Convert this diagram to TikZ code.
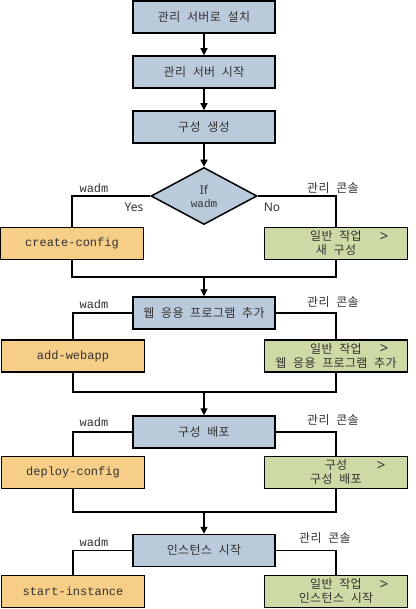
\documentclass[tikz,border=0pt]{standalone}
\usepackage{fontspec}
\setmainfont{Noto Sans}
\setmonofont{Liberation Mono}
\newfontfamily\kor{Noto Sans CJK KR}[LetterSpace=3,WordSpace=2.2]
\usepackage{xcolor}
\definecolor{taskblue}{RGB}{187,202,219}
\definecolor{wadmorange}{RGB}{247,206,135}
\definecolor{consolegreen}{RGB}{206,218,166}
\definecolor{inkgray}{RGB}{50,50,50}
\usepackage{tikz}
\usetikzlibrary{shapes.geometric,arrows.meta}
\tikzstyle{stage} = [rectangle, draw, line width=1.5pt, fill=taskblue,
  inner sep=0pt, minimum width=142pt, minimum height=32pt, text=inkgray,
  font=\kor\fontsize{12}{14}\selectfont]
\tikzstyle{cli} = [rectangle, draw, line width=1.5pt, fill=wadmorange,
  inner sep=0pt, minimum width=143pt, minimum height=32pt, text=inkgray,
  font=\ttfamily\fontsize{12}{14}\selectfont]
\tikzstyle{gui} = [rectangle, draw, line width=1.5pt, fill=consolegreen,
  inner sep=0pt, minimum width=143pt, minimum height=32pt, align=center,
  text=inkgray, font=\kor\fontsize{12}{14}\selectfont]
\tikzstyle{choice} = [diamond, draw, line width=1.5pt, fill=taskblue,
  inner sep=0pt, minimum width=106pt, minimum height=57pt, align=center,
  text=inkgray, font=\fontsize{12}{14}\selectfont]
\tikzstyle{tool} = [inner sep=0pt, text=inkgray, font=\ttfamily\fontsize{12}{14}\selectfont]
\tikzstyle{console} = [inner sep=0pt, text=inkgray, font=\kor\fontsize{12}{14}\selectfont]
\tikzstyle{answer} = [inner sep=0pt, text=inkgray, font=\fontsize{12}{14}\selectfont]
\tikzstyle{more} = [inner sep=0pt, text=inkgray, font=\fontsize{15}{15}\selectfont]

\begin{document}
\begin{tikzpicture}[x=1pt, y=-1pt, line width=1.2pt, >={Triangle[length=7pt,width=7pt]}]
  \useasboundingbox (0,0) rectangle (415,609);

  \node[stage] (inst) at (204, 17) {관리 서버로 설치};
  \node[stage] (start) at (204, 72) {관리 서버 시작};
  \node[stage] (conf) at (204, 127) {구성 생성};
  \node[choice] (ifw) at (204, 196) {If\\[-1pt]{\ttfamily\fontsize{11}{13}\selectfont wadm}};

  \node[cli] (cc) at (72, 243.5) {create-config};
  \node[gui] (g1) at (336, 243.5) {일반 작업\\새 구성};
  \coordinate (m1) at (204, 277);

  \node[stage] (web) at (204, 313) {웹 응용 프로그램 추가};
  \node[cli] (aw) at (73, 356) {add-webapp};
  \node[gui] (g2) at (336, 356) {일반 작업\\웹 응용 프로그램 추가};
  \coordinate (m2) at (204, 392);

  \node[stage] (dep) at (204, 432) {구성 배포};
  \node[cli] (dc) at (73, 472.5) {deploy-config};
  \node[gui] (g3) at (336, 472.5) {구성\\구성 배포};
  \coordinate (m3) at (204, 512);

  \node[stage] (sti) at (204, 550.5) {인스턴스 시작};
  \node[cli] (si) at (73, 591.5) {start-instance};
  \node[gui] (g4) at (336, 591.5) {일반 작업\\인스턴스 시작};

  % labels
  \node[tool] (w1) at (94, 188) {wadm};
  \node[console] (k1) at (333, 188) {관리 콘솔};
  \node[answer] (yes) at (134, 207) {Yes};
  \node[answer] (no) at (272, 207) {No};
  \node[tool] (w2) at (94, 304) {wadm};
  \node[console] (k2) at (333, 302) {관리 콘솔};
  \node[tool] (w3) at (94, 422) {wadm};
  \node[console] (k3) at (333, 420) {관리 콘솔};
  \node[tool] (w4) at (94, 542) {wadm};
  \node[console] (k4) at (325, 538) {관리 콘솔};

  \node[more] (g1more) at ([xshift=-24pt, yshift=7pt]g1.east) {>};
  \node[more] (g2more) at ([xshift=-24pt, yshift=7pt]g2.east) {>};
  \node[more] (g3more) at ([xshift=-27pt, yshift=7pt]g3.east) {>};
  \node[more] (g4more) at ([xshift=-24pt, yshift=7pt]g4.east) {>};

  \path[draw,->] (inst) -- (start);
  \path[draw,->] (start) -- (conf);
  \path[draw,->] (conf) -- (ifw);
  \path[draw] (ifw.west) -| (cc.north);
  \path[draw] (ifw.east) -| (g1.north);
  \path[draw] (cc.south) |- (m1) -| (g1.south);
  \path[draw,->] (m1) -- (web);

  \path[draw] (web.west) -| (aw.north);
  \path[draw] (web.east) -| (g2.north);
  \path[draw] (aw.south) |- (m2) -| (g2.south);
  \path[draw,->] (m2) -- (dep);

  \path[draw] (dep.west) -| (dc.north);
  \path[draw] (dep.east) -| (g3.north);
  \path[draw] (dc.south) |- (m3) -| (g3.south);
  \path[draw,->] (m3) -- (sti);

  \path[draw] (sti.west) -| (si.north);
  \path[draw] (sti.east) -| (g4.north);
\end{tikzpicture}
\end{document}
